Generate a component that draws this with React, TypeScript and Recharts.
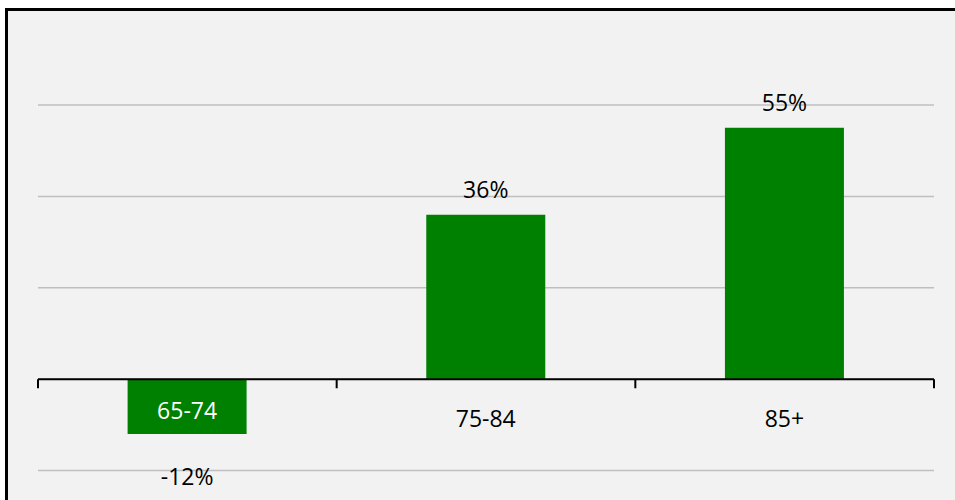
import React from "react";
import {
  BarChart,
  Bar,
  XAxis,
  YAxis,
  CartesianGrid,
  ReferenceLine,
  LabelList,
} from "recharts";

const categories = ["65-74", "75-84", "85+"];
const changePct = [-12, 36, 55];
const yTicks = [-20, 0, 20, 40, 60];
const edgeTicks = [0, 1, 2, 3];

const data = categories.map((name, i) => ({ name, value: changePct[i] }));

const FONT = "'Open Sans', 'Liberation Sans', sans-serif";
const GREEN = "#008000";
const BG = "#F2F2F2";

function barBox(p: any) {
  const y = Number(p.y);
  const h = Number(p.height);
  return { top: Math.min(y, y + h), bottom: Math.max(y, y + h) };
}

// value label: above positive bars, well below negative ones
function ValueLabel(p: any) {
  const { top, bottom } = barBox(p);
  const v = Number(p.value);
  const cx = Number(p.x) + Number(p.width) / 2;
  const y = v >= 0 ? top - 17 : bottom + 51;
  return (
    <text x={cx} y={y} textAnchor="middle" fontFamily={FONT} fontSize={23} fill="#000">
      {`${v}%`}
    </text>
  );
}

// category name: inside the bar (white) when negative, under the axis otherwise
function CategoryLabel(p: any) {
  const { top, bottom } = barBox(p);
  const neg = changePct[p.index] < 0;
  const zero = neg ? top : bottom;
  const cx = Number(p.x) + Number(p.width) / 2;
  return (
    <text
      x={cx}
      y={zero + (neg ? 40 : 48)}
      textAnchor="middle"
      fontFamily={FONT}
      fontSize={23}
      fill={neg ? "#fff" : "#000"}
    >
      {p.value}
    </text>
  );
}

export default function App() {
  return (
    <div style={{ position: "fixed", left: 0, top: 0, width: 955, height: 500, overflow: "hidden", background: "#fff" }}>
      <div
        style={{
          position: "absolute",
          left: 5,
          top: 8,
          width: 1000,
          height: 600,
          boxSizing: "border-box",
          border: "3px solid #000",
          background: BG,
        }}
      />
      <div style={{ position: "absolute", left: 0, top: 0 }}>
        <BarChart
          width={955}
          height={500}
          data={data}
          margin={{ top: 105, right: 21, left: 38, bottom: 29.5 }}
          barCategoryGap="30%"
        >
          <CartesianGrid vertical={false} stroke="#BFBFBF" strokeWidth={1.5} />
          <XAxis dataKey="name" hide />
          {/* category boundaries, only used to place the axis tick marks */}
          <XAxis
            xAxisId="edges"
            type="number"
            dataKey={(d: any) => categories.indexOf(d.name)}
            domain={[0, categories.length]}
            ticks={edgeTicks}
            allowDataOverflow
            hide
          />
          <YAxis type="number" domain={[-20, 60]} ticks={yTicks} allowDataOverflow hide />
          <Bar dataKey="value" fill={GREEN} isAnimationActive={false}>
            <LabelList dataKey="value" content={ValueLabel} />
            <LabelList dataKey="name" content={CategoryLabel} />
          </Bar>
          {edgeTicks.map((e) => (
            <ReferenceLine
              key={e}
              xAxisId="edges"
              segment={[
                { x: e, y: 0 },
                { x: e, y: -2 },
              ]}
              stroke="#000"
              strokeWidth={2}
              ifOverflow="visible"
            />
          ))}
          <ReferenceLine y={0} stroke="#000" strokeWidth={2} />
        </BarChart>
      </div>
    </div>
  );
}
